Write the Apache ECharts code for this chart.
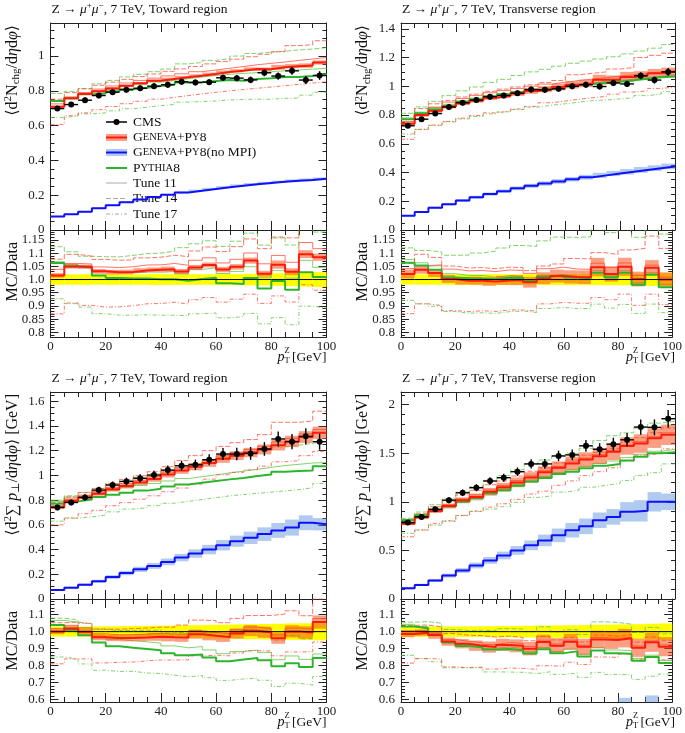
<!DOCTYPE html>
<html><head><meta charset="utf-8">
<script src="https://cdn.jsdelivr.net/npm/echarts@6/dist/echarts.min.js"></script>
<style>html,body{margin:0;padding:0;background:#fff}#c{width:685px;height:733px}</style>
</head><body><div id="c"></div>
<script>
// ---------------- DATA ----------------
const binLow  = [0,5,10,15,20,25,30,35,40,45,50,55,60,65,70,75,80,85,90,95];
const binHigh = [5,10,15,20,25,30,35,40,45,50,55,60,65,70,75,80,85,90,95,100];
const xTickLabels = ['0','20','40','60','80','100'];

// Panel 1: Nchg, Toward region
const nchTowCMS    = [0.698,0.721,0.746,0.773,0.792,0.806,0.815,0.827,0.835,0.852,0.848,0.850,0.875,0.873,0.863,0.904,0.885,0.915,0.862,0.888];
const nchTowCMSErr = [0.014,0.014,0.015,0.015,0.016,0.016,0.016,0.017,0.017,0.017,0.017,0.017,0.018,0.018,0.019,0.020,0.021,0.023,0.023,0.025];
const nchTowGen    = [0.709,0.757,0.782,0.797,0.814,0.829,0.843,0.858,0.868,0.878,0.887,0.897,0.908,0.915,0.925,0.924,0.935,0.942,0.945,0.963];
const nchTowGenErr = [0.006,0.006,0.006,0.007,0.007,0.007,0.007,0.007,0.008,0.008,0.008,0.008,0.009,0.009,0.010,0.010,0.014,0.012,0.013,0.012];
const nchTowNoMPI  = [0.077,0.090,0.105,0.125,0.143,0.160,0.175,0.190,0.203,0.215,0.226,0.236,0.246,0.255,0.263,0.270,0.277,0.283,0.288,0.294];
const nchTowNoMPIErr=[0.003,0.003,0.004,0.004,0.004,0.005,0.005,0.005,0.005,0.006,0.006,0.006,0.006,0.007,0.007,0.007,0.007,0.008,0.008,0.008];
const nchTowPy8    = [0.742,0.757,0.780,0.785,0.797,0.809,0.818,0.828,0.836,0.848,0.850,0.856,0.863,0.858,0.868,0.873,0.880,0.880,0.886,0.897];
const nchTowGenT11 = [0.725,0.765,0.790,0.810,0.828,0.845,0.860,0.873,0.886,0.898,0.910,0.920,0.930,0.940,0.950,0.958,0.966,0.975,0.983,0.992];
const nchTowGenT14 = [0.752,0.790,0.812,0.832,0.850,0.866,0.882,0.897,0.912,0.926,0.940,0.955,0.968,0.982,0.996,1.010,1.025,1.060,1.065,1.088];
const nchTowGenT17 = [0.607,0.657,0.673,0.692,0.710,0.726,0.740,0.752,0.763,0.773,0.783,0.792,0.800,0.808,0.815,0.822,0.830,0.837,0.845,0.852];
const nchTowPyT11  = [0.745,0.762,0.782,0.797,0.812,0.826,0.838,0.850,0.860,0.870,0.880,0.888,0.895,0.900,0.905,0.910,0.915,0.920,0.925,0.929];
const nchTowPyT14  = [0.785,0.797,0.812,0.840,0.860,0.880,0.895,0.910,0.925,0.955,0.963,0.975,0.985,1.000,1.015,1.022,1.028,1.035,1.040,1.048];
const nchTowPyT17  = [0.647,0.655,0.668,0.673,0.685,0.697,0.706,0.715,0.722,0.735,0.738,0.742,0.748,0.750,0.752,0.752,0.757,0.758,0.775,0.792];

// Panel 2: Nchg, Transverse region
const nchTrCMS     = [0.725,0.771,0.810,0.856,0.886,0.904,0.927,0.936,0.952,0.977,0.975,0.982,1.000,1.011,0.998,1.023,1.016,1.073,1.043,1.100];
const nchTrCMSErr  = [0.014,0.015,0.016,0.017,0.018,0.018,0.019,0.019,0.019,0.020,0.020,0.020,0.021,0.021,0.021,0.022,0.022,0.024,0.025,0.027];
const nchTrGen     = [0.740,0.800,0.830,0.858,0.882,0.900,0.920,0.933,0.950,0.967,0.980,0.995,1.010,1.020,1.045,1.045,1.065,1.075,1.090,1.100];
const nchTrGenErr  = [0.012,0.012,0.012,0.013,0.013,0.014,0.015,0.016,0.018,0.020,0.022,0.024,0.025,0.026,0.035,0.030,0.035,0.030,0.030,0.030];
const nchTrNoMPI   = [0.100,0.125,0.155,0.180,0.205,0.228,0.250,0.270,0.290,0.307,0.323,0.338,0.353,0.367,0.380,0.393,0.405,0.418,0.430,0.442];
const nchTrNoMPIErr= [0.005,0.006,0.007,0.008,0.009,0.010,0.011,0.012,0.013,0.014,0.015,0.016,0.016,0.017,0.018,0.018,0.019,0.020,0.020,0.020];
const nchTrPy8     = [0.771,0.812,0.840,0.863,0.890,0.908,0.928,0.942,0.958,0.972,0.985,0.998,1.008,1.016,1.024,1.032,1.042,1.052,1.062,1.068];
const nchTrGenT11  = [0.755,0.812,0.855,0.890,0.915,0.935,0.955,0.970,0.985,1.000,1.015,1.028,1.040,1.050,1.060,1.070,1.080,1.090,1.100,1.110];
const nchTrGenT14  = [0.770,0.845,0.878,0.900,0.925,0.945,0.965,0.980,0.995,1.010,1.025,1.040,1.080,1.090,1.100,1.120,1.130,1.200,1.215,1.230];
const nchTrGenT17  = [0.631,0.700,0.730,0.755,0.778,0.797,0.815,0.828,0.842,0.860,0.885,0.897,0.910,0.920,0.930,0.945,0.960,0.968,0.985,0.995];
const nchTrPyT11   = [0.780,0.820,0.852,0.875,0.900,0.918,0.935,0.950,0.962,0.975,0.990,1.000,1.012,1.022,1.032,1.040,1.050,1.060,1.070,1.080];
const nchTrPyT14   = [0.812,0.856,0.895,0.935,0.968,0.995,1.027,1.048,1.075,1.100,1.118,1.140,1.160,1.175,1.190,1.205,1.225,1.245,1.265,1.290];
const nchTrPyT17   = [0.668,0.700,0.728,0.752,0.773,0.790,0.808,0.822,0.838,0.855,0.868,0.878,0.890,0.900,0.905,0.912,0.920,0.935,0.946,0.962];

// Panel 3: sum pT, Toward region
const ptTowCMS     = [0.741,0.781,0.822,0.881,0.922,0.951,0.977,1.003,1.043,1.078,1.086,1.127,1.173,1.173,1.178,1.214,1.295,1.273,1.316,1.273];
const ptTowCMSErr  = [0.022,0.023,0.025,0.027,0.029,0.031,0.033,0.035,0.037,0.040,0.042,0.045,0.048,0.050,0.052,0.055,0.060,0.062,0.065,0.065];
const ptTowGen     = [0.742,0.795,0.822,0.852,0.888,0.915,0.943,0.972,1.008,1.040,1.070,1.100,1.135,1.160,1.185,1.210,1.245,1.275,1.310,1.345];
const ptTowGenErr  = [0.012,0.013,0.014,0.016,0.018,0.019,0.021,0.023,0.025,0.027,0.029,0.031,0.033,0.035,0.038,0.040,0.043,0.046,0.048,0.050];
const ptTowNoMPI   = [0.073,0.092,0.115,0.143,0.178,0.210,0.240,0.268,0.300,0.335,0.368,0.400,0.435,0.468,0.495,0.525,0.555,0.578,0.617,0.605];
const ptTowNoMPIErr= [0.006,0.008,0.010,0.012,0.015,0.018,0.021,0.024,0.027,0.030,0.034,0.038,0.042,0.045,0.050,0.055,0.060,0.065,0.060,0.050];
const ptTowPy8     = [0.770,0.790,0.805,0.825,0.843,0.860,0.877,0.893,0.910,0.927,0.940,0.955,0.968,0.980,0.995,1.008,1.030,1.035,1.040,1.075];
const ptTowGenT11  = [0.755,0.810,0.840,0.870,0.905,0.935,0.962,0.992,1.028,1.062,1.092,1.122,1.158,1.185,1.210,1.236,1.270,1.300,1.336,1.372];
const ptTowGenT14  = [0.780,0.825,0.860,0.895,0.935,0.968,0.998,1.030,1.070,1.120,1.160,1.200,1.235,1.265,1.290,1.330,1.430,1.430,1.440,1.520];
const ptTowGenT17  = [0.600,0.655,0.690,0.718,0.755,0.780,0.808,0.835,0.868,0.898,0.930,0.970,1.005,1.025,1.045,1.075,1.110,1.120,1.160,1.195];
const ptTowPyT11   = [0.790,0.825,0.840,0.858,0.880,0.900,0.918,0.935,0.955,0.975,0.990,1.005,1.020,1.035,1.050,1.065,1.080,1.090,1.100,1.105];
const ptTowPyT14   = [0.800,0.835,0.863,0.893,0.928,0.958,0.985,1.012,1.040,1.068,1.093,1.120,1.145,1.168,1.190,1.210,1.230,1.245,1.260,1.275];
const ptTowPyT17   = [0.630,0.655,0.665,0.680,0.705,0.728,0.738,0.755,0.775,0.790,0.805,0.820,0.835,0.845,0.855,0.865,0.875,0.885,0.900,0.935];

// Panel 4: sum pT, Transverse region
const ptTrCMS      = [0.786,0.845,0.924,1.017,1.093,1.145,1.214,1.248,1.310,1.390,1.390,1.472,1.483,1.576,1.541,1.593,1.638,1.769,1.766,1.855];
const ptTrCMSErr   = [0.024,0.026,0.028,0.031,0.034,0.036,0.039,0.041,0.044,0.048,0.050,0.054,0.056,0.060,0.062,0.066,0.070,0.078,0.082,0.090];
const ptTrGen      = [0.775,0.840,0.905,0.957,1.015,1.050,1.103,1.150,1.200,1.250,1.305,1.350,1.395,1.435,1.470,1.515,1.575,1.600,1.655,1.690];
const ptTrGenErr   = [0.015,0.016,0.020,0.025,0.030,0.035,0.040,0.045,0.050,0.055,0.060,0.065,0.070,0.075,0.080,0.085,0.090,0.095,0.100,0.105];
const ptTrNoMPI    = [0.110,0.145,0.190,0.241,0.293,0.345,0.397,0.448,0.500,0.552,0.603,0.655,0.707,0.748,0.810,0.845,0.897,0.907,1.000,1.000];
const ptTrNoMPIErr = [0.010,0.012,0.015,0.020,0.025,0.030,0.035,0.040,0.045,0.050,0.060,0.070,0.075,0.080,0.080,0.080,0.100,0.110,0.100,0.085];
const ptTrPy8      = [0.810,0.862,0.905,0.952,1.000,1.040,1.085,1.120,1.165,1.210,1.245,1.285,1.310,1.345,1.370,1.390,1.425,1.465,1.500,1.510];
const ptTrGenT11   = [0.790,0.852,0.915,0.970,1.030,1.072,1.122,1.168,1.218,1.268,1.320,1.365,1.410,1.450,1.488,1.530,1.585,1.620,1.670,1.710];
const ptTrGenT14   = [0.815,0.878,0.950,1.005,1.070,1.118,1.175,1.215,1.265,1.315,1.350,1.400,1.430,1.480,1.510,1.550,1.610,1.660,1.710,1.760];
const ptTrGenT17   = [0.640,0.710,0.775,0.805,0.860,0.905,0.945,0.980,1.025,1.080,1.110,1.170,1.215,1.270,1.310,1.350,1.420,1.480,1.500,1.545];
const ptTrPyT11    = [0.820,0.870,0.915,0.960,1.010,1.050,1.095,1.135,1.180,1.225,1.260,1.300,1.330,1.365,1.395,1.420,1.455,1.490,1.520,1.540];
const ptTrPyT14    = [0.830,0.895,0.970,1.030,1.100,1.155,1.220,1.270,1.330,1.390,1.430,1.470,1.500,1.550,1.630,1.680,1.710,1.760,1.810,1.830];
const ptTrPyT17    = [0.676,0.710,0.760,0.800,0.860,0.900,0.925,0.950,0.995,1.045,1.060,1.100,1.120,1.150,1.170,1.190,1.220,1.270,1.300,1.390];

// tick labels
const mainLabelsNchTow = ['0','0.2','0.4','0.6','0.8','1'];
const mainLabelsNchTr  = ['0','0.2','0.4','0.6','0.8','1','1.2','1.4'];
const mainLabelsPtTow  = ['0','0.2','0.4','0.6','0.8','1','1.2','1.4','1.6'];
const mainLabelsPtTr   = ['0','0.5','1','1.5','2'];
const ratioLabelsNch   = ['0.8','0.85','0.9','0.95','1.0','1.05','1.1','1.15'];
const ratioLabelsPt    = ['0.6','0.7','0.8','0.9','1.0','1.1'];

// ---------------- STYLE / LAYOUT ----------------
const FF = '"Liberation Serif", "DejaVu Serif", serif';
const C_RED = '#ff1a0a', C_REDBAND = 'rgba(245,80,30,0.55)';
const C_BLUE = '#1010ff', C_BLUEBAND = 'rgba(80,140,220,0.45)';
const C_GREEN = '#2cb52c';
const C_RTUNE = 'rgba(255,70,50,0.75)', C_GTUNE = 'rgba(100,200,70,0.8)';
const DASH = {t11: 'solid', t14: [5, 2], t17: [4, 2, 1, 2]};

const panels = [
  {cms:nchTowCMS, err:nchTowCMSErr, gen:nchTowGen, genErr:nchTowGenErr, nompi:nchTowNoMPI, nompiErr:nchTowNoMPIErr, py8:nchTowPy8,
   gt:{t11:nchTowGenT11,t14:nchTowGenT14,t17:nchTowGenT17}, pt:{t11:nchTowPyT11,t14:nchTowPyT14,t17:nchTowPyT17},
   left:50.5, width:276, top:23, split:230, bottom:337, mainMax:1.19, rMin:0.782, rMax:1.188,
   mainLabels:mainLabelsNchTow, mainMinor:0.05, ratioLabels:ratioLabelsNch, ratioMinor:0.01, title:'Toward region', ytype:'n'},
  {cms:nchTrCMS, err:nchTrCMSErr, gen:nchTrGen, genErr:nchTrGenErr, nompi:nchTrNoMPI, nompiErr:nchTrNoMPIErr, py8:nchTrPy8,
   gt:{t11:nchTrGenT11,t14:nchTrGenT14,t17:nchTrGenT17}, pt:{t11:nchTrPyT11,t14:nchTrPyT14,t17:nchTrPyT17},
   left:401, width:274, top:23, split:230, bottom:337, mainMax:1.44, rMin:0.782, rMax:1.188,
   mainLabels:mainLabelsNchTr, mainMinor:0.05, ratioLabels:ratioLabelsNch, ratioMinor:0.01, title:'Transverse region', ytype:'n'},
  {cms:ptTowCMS, err:ptTowCMSErr, gen:ptTowGen, genErr:ptTowGenErr, nompi:ptTowNoMPI, nompiErr:ptTowNoMPIErr, py8:ptTowPy8,
   gt:{t11:ptTowGenT11,t14:ptTowGenT14,t17:ptTowGenT17}, pt:{t11:ptTowPyT11,t14:ptTowPyT14,t17:ptTowPyT17},
   left:50.5, width:276, top:392, split:599, bottom:702, mainMax:1.675, rMin:0.584, rMax:1.193,
   mainLabels:mainLabelsPtTow, mainMinor:0.05, ratioLabels:ratioLabelsPt, ratioMinor:0.02, title:'Toward region', ytype:'p'},
  {cms:ptTrCMS, err:ptTrCMSErr, gen:ptTrGen, genErr:ptTrGenErr, nompi:ptTrNoMPI, nompiErr:ptTrNoMPIErr, py8:ptTrPy8,
   gt:{t11:ptTrGenT11,t14:ptTrGenT14,t17:ptTrGenT17}, pt:{t11:ptTrPyT11,t14:ptTrPyT14,t17:ptTrPyT17},
   left:401, width:274, top:392, split:599, bottom:702, mainMax:2.13, rMin:0.584, rMax:1.193,
   mainLabels:mainLabelsPtTr, mainMinor:0.1, ratioLabels:ratioLabelsPt, ratioMinor:0.02, title:'Transverse region', ytype:'p'}
];

// ---------------- HELPERS ----------------
const div = (a, b) => a.map((v, i) => v / b[i]);
const add = (a, b, s) => a.map((v, i) => v + s * b[i]);
const stepData = vals => binLow.map((x, i) => [x, vals[i]]).concat([[binHigh[binHigh.length - 1], vals[vals.length - 1]]]);
function minorTicks(lo, hi, step) {
  const out = [];
  for (let k = Math.ceil(lo / step - 1e-6); k * step <= hi + 1e-9; k++) out.push(+(k * step).toFixed(4));
  return out;
}
const AX = '#222';
const grids = [], xAxes = [], yAxes = [], series = [];

function addGrid(left, top, width, height, yMin, yMax, labels, minorStep, showX) {
  const gi = grids.length;
  grids.push({left, top, width, height, containLabel: false});
  const xBase = {gridIndex: gi, type: 'value', min: 0, max: 100, interval: 20,
    axisLine: {show: true, onZero: false, lineStyle: {color: AX, width: 1}},
    axisTick: {show: true, inside: true, length: 9, lineStyle: {color: AX, width: 1}},
    minorTick: {show: true, splitNumber: 4, length: 5, lineStyle: {color: AX, width: 1}},
    splitLine: {show: false}, minorSplitLine: {show: false}};
  xAxes.push(Object.assign({}, xBase, {position: 'bottom',
    axisLabel: {show: showX, margin: 3, fontFamily: FF, fontSize: 13, color: AX,
      formatter: v => { const i = xTickLabels.findIndex(s => Math.abs(+s - v) < 1e-6); return i >= 0 ? xTickLabels[i] : ''; }}}));
  xAxes.push(Object.assign({}, xBase, {position: 'top', axisLabel: {show: false}}));
  const majors = labels.map(Number);
  const minors = minorTicks(yMin, yMax, minorStep);
  const fmt = v => { const i = majors.findIndex(m => Math.abs(m - v) < 1e-6); return i >= 0 ? labels[i] : ''; };
  for (const pos of ['left', 'right']) {
    yAxes.push({gridIndex: gi, type: 'value', min: yMin, max: yMax, position: pos,
      axisLine: {show: true, onZero: false, lineStyle: {color: AX, width: 1}},
      axisTick: {show: true, inside: true, length: 8, customValues: majors, lineStyle: {color: AX, width: 1}},
      axisLabel: {show: pos === 'left', customValues: majors, formatter: fmt, margin: 6, fontFamily: FF, fontSize: 13, color: AX},
      splitLine: {show: false}});
    yAxes.push({gridIndex: gi, type: 'value', min: yMin, max: yMax, position: pos,
      axisLine: {show: false, onZero: false},
      axisTick: {show: true, inside: true, length: 4, customValues: minors, lineStyle: {color: AX, width: 1}},
      axisLabel: {show: false}, splitLine: {show: false}});
  }
  return gi;
}

function lineS(gi, vals, color, width, type, z) {
  return {type: 'line', xAxisIndex: 2 * gi, yAxisIndex: 4 * gi, data: stepData(vals), step: 'end',
    symbol: 'none', showSymbol: false, silent: true, clip: true, z,
    lineStyle: {color, width, type}};
}
function bandS(gi, lo, hi, color, z) {
  return {type: 'custom', xAxisIndex: 2 * gi, yAxisIndex: 4 * gi, z, silent: true,
    data: binLow.map((x, i) => [x, binHigh[i], lo[i], hi[i]]),
    encode: {x: [0, 1], y: [2, 3]},
    renderItem: (params, api) => {
      const p0 = api.coord([api.value(0), api.value(3)]);
      const p1 = api.coord([api.value(1), api.value(2)]);
      const cs = params.coordSys;
      const shape = echarts.graphic.clipRectByRect(
        {x: p0[0], y: p0[1], width: p1[0] - p0[0], height: p1[1] - p0[1]},
        {x: cs.x, y: cs.y, width: cs.width, height: cs.height});
      if (!shape) return;
      return {type: 'rect', shape, style: {fill: color}};
    }};
}
function cmsS(gi, vals, errs, z) {
  return {type: 'custom', xAxisIndex: 2 * gi, yAxisIndex: 4 * gi, z, silent: true,
    data: binLow.map((x, i) => [x, binHigh[i], vals[i], errs[i]]),
    encode: {x: [0, 1], y: 2},
    renderItem: (params, api) => {
      const x0 = api.value(0), x1 = api.value(1), y = api.value(2), e = api.value(3), xc = (x0 + x1) / 2;
      const L = api.coord([x0, y]), R = api.coord([x1, y]), T = api.coord([xc, y + e]), B = api.coord([xc, y - e]);
      return {type: 'group', children: [
        {type: 'line', shape: {x1: L[0], y1: L[1], x2: R[0], y2: R[1]}, style: {stroke: '#000', lineWidth: 1.4}},
        {type: 'line', shape: {x1: T[0], y1: T[1], x2: B[0], y2: B[1]}, style: {stroke: '#000', lineWidth: 1.4}},
        {type: 'circle', shape: {cx: L[0] + (R[0] - L[0]) / 2, cy: L[1], r: 3}, style: {fill: '#000'}}
      ]};
    }};
}

// ---------------- BUILD ----------------
const graphics = [];
panels.forEach(p => {
  const gm = addGrid(p.left, p.top, p.width, p.split - p.top, 0, p.mainMax, p.mainLabels, p.mainMinor, false);
  const gr = addGrid(p.left, p.split, p.width, p.bottom - p.split, p.rMin, p.rMax, p.ratioLabels, p.ratioMinor, true);
  // main
  ['t11', 't14', 't17'].forEach(t => {
    series.push(lineS(gm, p.pt[t], C_GTUNE, 1, DASH[t], 2));
    series.push(lineS(gm, p.gt[t], C_RTUNE, 1, DASH[t], 2));
  });
  series.push(bandS(gm, add(p.nompi, p.nompiErr, -1), add(p.nompi, p.nompiErr, 1), C_BLUEBAND, 3));
  series.push(bandS(gm, add(p.gen, p.genErr, -1), add(p.gen, p.genErr, 1), C_REDBAND, 3));
  series.push(lineS(gm, p.py8, C_GREEN, 2, 'solid', 4));
  series.push(lineS(gm, p.nompi, C_BLUE, 2, 'solid', 4));
  series.push(lineS(gm, p.gen, C_RED, 2, 'solid', 4));
  series.push(cmsS(gm, p.cms, p.err, 6));
  // ratio
  series.push(bandS(gr, div(add(p.cms, p.err, -1), p.cms), div(add(p.cms, p.err, 1), p.cms), '#ffff00', 1));
  ['t11', 't14', 't17'].forEach(t => {
    series.push(lineS(gr, div(p.pt[t], p.cms), C_GTUNE, 1, DASH[t], 2));
    series.push(lineS(gr, div(p.gt[t], p.cms), C_RTUNE, 1, DASH[t], 2));
  });
  series.push(bandS(gr, div(add(p.nompi, p.nompiErr, -1), p.cms), div(add(p.nompi, p.nompiErr, 1), p.cms), C_BLUEBAND, 3));
  series.push(bandS(gr, div(add(p.gen, p.genErr, -1), p.cms), div(add(p.gen, p.genErr, 1), p.cms), C_REDBAND, 3));
  series.push(lineS(gr, div(p.py8, p.cms), C_GREEN, 2, 'solid', 4));
  series.push(lineS(gr, div(p.nompi, p.cms), C_BLUE, 2, 'solid', 4));
  series.push(lineS(gr, div(p.gen, p.cms), C_RED, 2, 'solid', 4));
  series.push(lineS(gr, div(p.cms, p.cms), '#000', 1, 'solid', 5));

  // titles & axis names
  graphics.push({type: 'text', x: p.left + 1, y: p.top - 14, style: {
    text: 'Z → {i|μ}{sup|+}{i|μ}{sup|−}, 7 TeV, ' + p.title, font: '13.5px ' + FF, fill: '#111', verticalAlign: 'middle',
    rich: {i: {fontFamily: FF, fontSize: 13.5, fontStyle: 'italic', lineHeight: 16}, sup: {fontFamily: FF, fontSize: 9, lineHeight: 9, verticalAlign: 'top'}}}});
  const ynameText = p.ytype === 'n'
    ? '⟨d{sup|2}N{sub|chg}/d{i|η}d{i|φ}⟩'
    : '⟨d{sup|2}∑ {i|p}{sub|⊥}/d{i|η}d{i|φ}⟩ [GeV]';
  graphics.push({type: 'text', x: p.left - 38, y: p.top + 2, rotation: Math.PI / 2, style: {
    text: ynameText, font: '16px ' + FF, fill: '#111', align: 'right', verticalAlign: 'middle',
    rich: {i: {fontFamily: FF, fontSize: 16, fontStyle: 'italic', lineHeight: 19},
      sup: {fontFamily: FF, fontSize: 11, lineHeight: 11, verticalAlign: 'top'},
      sub: {fontFamily: FF, fontSize: 11, lineHeight: 11, verticalAlign: 'bottom'}}}});
  graphics.push({type: 'text', x: p.left - 38, y: p.split + 12, rotation: Math.PI / 2, style: {
    text: 'MC/Data', font: '16px ' + FF, fill: '#111', align: 'right', verticalAlign: 'middle'}});
  const xr = p.left + p.width, yb = p.bottom + 20;
  graphics.push({type: 'text', x: xr, y: yb, style: {text: '[GeV]', font: '13.5px ' + FF, fill: '#111', align: 'right', verticalAlign: 'middle'}});
  graphics.push({type: 'text', x: xr - 42, y: yb, style: {text: 'p', font: 'italic 14px ' + FF, fill: '#111', align: 'right', verticalAlign: 'middle'}});
  graphics.push({type: 'text', x: xr - 42, y: yb - 6, style: {text: 'Z', font: '8.5px ' + FF, fill: '#111', align: 'left', verticalAlign: 'middle'}});
  graphics.push({type: 'text', x: xr - 42, y: yb + 4, style: {text: 'T', font: '8.5px ' + FF, fill: '#111', align: 'left', verticalAlign: 'middle'}});
});

// legend (drawn in first panel)
const legendRows = [122, 137.5, 152.5, 168, 183, 198.5, 214];
const lx0 = 106, lx1 = 127, ltx = 133;
const scRich = {a: {fontFamily: FF, fontSize: 13.5, lineHeight: 16}, b: {fontFamily: FF, fontSize: 10.5, lineHeight: 16}};
const legendItems = [
  {text: 'CMS', kind: 'cms'},
  {text: '{a|G}{b|ENEVA}{a|+P}{b|Y}{a|8}', kind: 'gen'},
  {text: '{a|G}{b|ENEVA}{a|+P}{b|Y}{a|8(no MPI)}', kind: 'nompi'},
  {text: '{a|P}{b|YTHIA}{a|8}', kind: 'py8'},
  {text: 'Tune 11', kind: 't11'},
  {text: 'Tune 14', kind: 't14'},
  {text: 'Tune 17', kind: 't17'}
];
legendItems.forEach((it, i) => {
  const y = legendRows[i];
  if (it.kind === 'cms') {
    graphics.push({type: 'line', shape: {x1: lx0, y1: y, x2: lx1, y2: y}, style: {stroke: '#000', lineWidth: 1.5}});
    graphics.push({type: 'circle', shape: {cx: (lx0 + lx1) / 2, cy: y, r: 3}, style: {fill: '#000'}});
  } else if (it.kind === 'gen' || it.kind === 'nompi') {
    graphics.push({type: 'rect', shape: {x: lx0, y: y - 3.5, width: lx1 - lx0, height: 7}, style: {fill: it.kind === 'gen' ? C_REDBAND : C_BLUEBAND}});
    graphics.push({type: 'line', shape: {x1: lx0, y1: y, x2: lx1, y2: y}, style: {stroke: it.kind === 'gen' ? C_RED : C_BLUE, lineWidth: 2}});
  } else if (it.kind === 'py8') {
    graphics.push({type: 'line', shape: {x1: lx0, y1: y, x2: lx1, y2: y}, style: {stroke: C_GREEN, lineWidth: 2}});
  } else {
    graphics.push({type: 'line', shape: {x1: lx0, y1: y, x2: lx1, y2: y}, style: {stroke: '#aaa', lineWidth: 1, lineDash: DASH[it.kind] === 'solid' ? null : DASH[it.kind]}});
  }
  graphics.push({type: 'text', x: ltx, y: y, style: {text: it.text, font: '13.5px ' + FF, fill: '#111', verticalAlign: 'middle', rich: scRich}});
});

const chart = echarts.init(document.getElementById('c'), null, {renderer: 'canvas'});
chart.setOption({
  animation: false,
  backgroundColor: '#fff',
  grid: grids, xAxis: xAxes, yAxis: yAxes, series,
  graphic: {elements: graphics}
});
</script>
</body></html>
